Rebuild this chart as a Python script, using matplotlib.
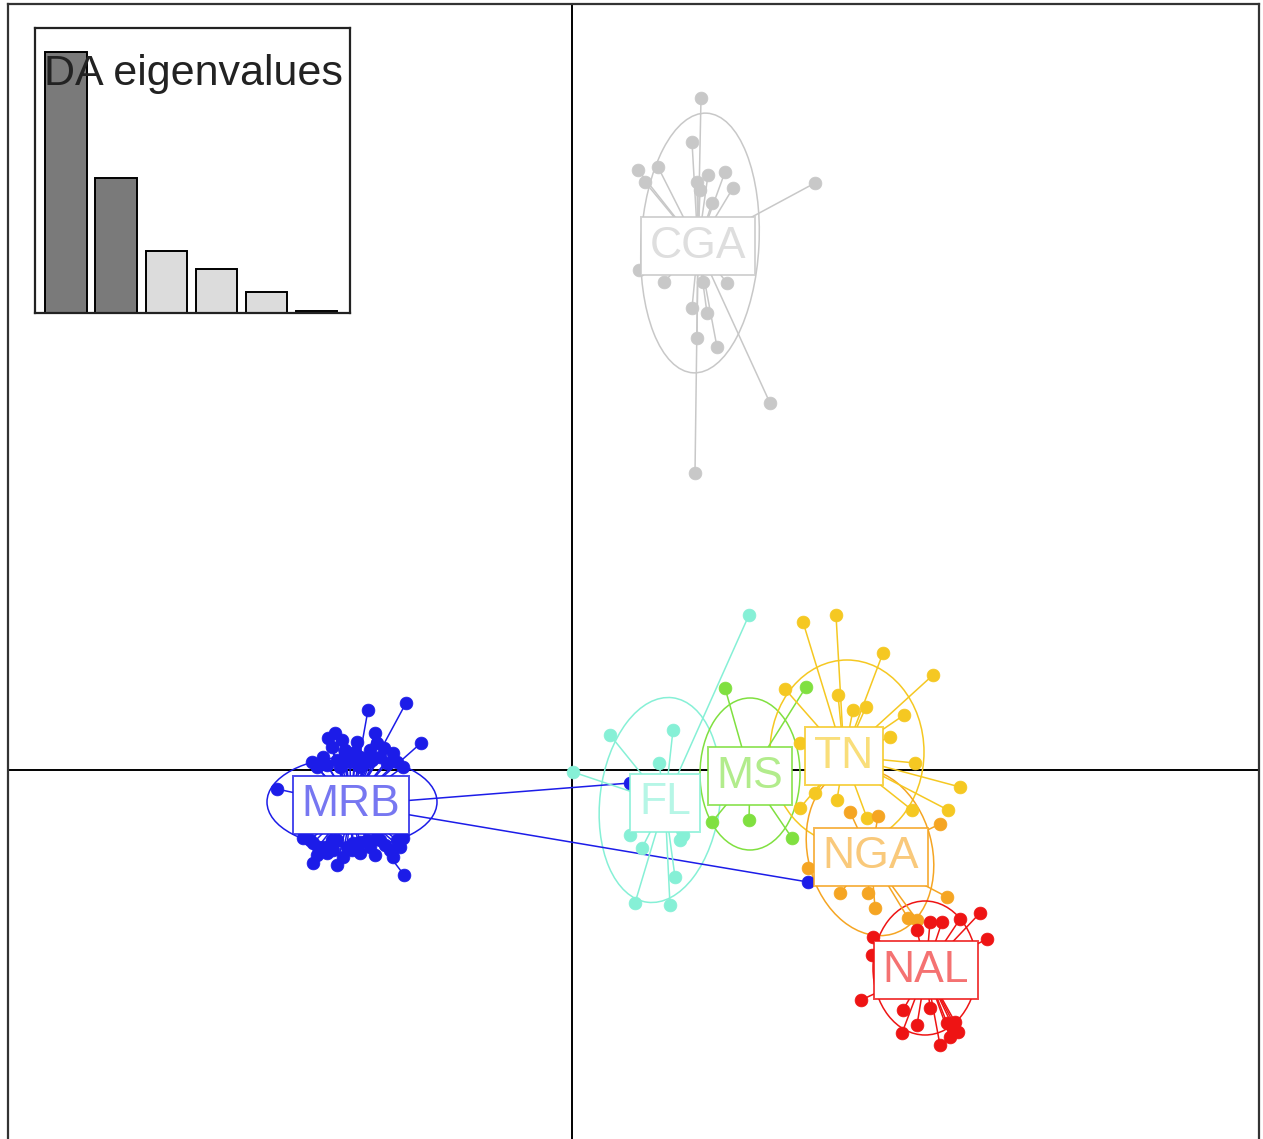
import numpy as np
import matplotlib
matplotlib.use("Agg")
import matplotlib.pyplot as plt
from matplotlib.patches import Ellipse
from matplotlib.colors import to_rgba

plt.rcParams['font.family'] = ['Liberation Sans', 'DejaVu Sans']

# DAPC scores (LD1, LD2) of individuals, by population
groups = ["MRB", "FL", "MS", "TN", "NGA", "NAL", "CGA"]
colors = ["#1C1CE8", "#86F0D6", "#80E040", "#F5C822", "#F5A523", "#EE1414", "#C8C8C8"]

mrb_ld1 = [-1.66, -2.04, -1.51, -1.68, -2.59, -2.35, -2.95, 2.36, 0.58,
           -2.37, -2.44, -1.97, -2.27, -2.12, -2.02, -1.92, -1.79, -1.75, -2.35, -2.49,
           -2.22, -1.85, -2.40, -1.95, -2.12, -2.32, -2.45, -1.69, -2.55, -2.05, -2.17,
           -2.30, -2.15, -2.00, -1.88, -2.60, -2.28,
           -2.69, -2.59, -2.49, -2.35, -2.25, -2.12, -2.02, -1.92, -1.82, -1.72, -1.79,
           -2.12, -2.29, -2.45, -2.54, -2.19, -1.97, -2.62, -1.69, -1.95, -2.39,
           -2.05, -2.40, -1.87, -2.20, -2.55, -1.75]
mrb_ld2 = [0.67, 0.60, 0.27, -1.05, -0.93, -0.95, -0.19, -1.12, -0.13,
           0.37, 0.32, 0.37, 0.20, 0.13, 0.20, 0.13, 0.17, 0.08, 0.10, 0.13,
           0.08, 0.07, 0.23, 0.27, 0.03, 0.03, 0.05, 0.03, 0.03, 0.08, 0.18,
           0.30, 0.28, 0.10, 0.22, 0.08, 0.12,
           -0.68, -0.73, -0.77, -0.70, -0.77, -0.72, -0.77, -0.70, -0.80, -0.77, -0.87,
           -0.83, -0.87, -0.83, -0.77, -0.73, -0.85, -0.70, -0.68, -0.67, -0.80,
           -0.70, -0.70, -0.75, -0.80, -0.85, -0.70]

fl_ld1 = [1.77, 0.38, 1.01, 0.87, 0.01, 0.58, 1.11, 0.70, 1.03, 0.63, 0.98, 1.08]
fl_ld2 = [1.55, 0.35, 0.40, 0.07, -0.02, -0.65, -0.65, -0.78, -1.07, -1.33, -1.35, -0.70]

ms_ld1 = [1.53, 1.40, 1.77, 2.20, 2.34]
ms_ld2 = [0.82, -0.52, -0.50, -0.68, 0.83]

tn_ld1 = [2.31, 2.64, 3.11, 3.61, 2.13, 2.66, 2.81, 2.94, 3.32, 3.18, 3.43, 3.88,
          3.76, 3.40, 2.28, 2.28, 2.65, 2.95, 2.43]
tn_ld2 = [1.48, 1.55, 1.17, 0.95, 0.81, 0.75, 0.60, 0.63, 0.55, 0.33, 0.07, -0.17,
          -0.40, -0.40, 0.27, -0.38, -0.30, -0.48, -0.23]

nga_ld1 = [2.78, 3.06, 3.68, 2.36, 2.68, 2.96, 3.03, 3.36, 3.45, 3.75]
nga_ld2 = [-0.42, -0.46, -0.54, -0.98, -1.23, -1.23, -1.38, -1.48, -1.50, -1.27]

nal_ld1 = [4.08, 4.15, 3.88, 3.70, 3.58, 3.45, 3.01, 3.00, 2.89, 3.31, 3.45, 3.30,
           3.58, 3.75, 3.83, 3.86, 3.78, 3.68, 3.81]
nal_ld2 = [-1.43, -1.69, -1.49, -1.52, -1.52, -1.60, -1.67, -1.85, -2.30, -2.40, -2.55, -2.63,
           -2.38, -2.53, -2.52, -2.62, -2.67, -2.75, -2.57]

cga_ld1 = [1.29, 1.20, 0.66, 0.86, 0.73, 1.25, 1.36, 1.53, 1.61, 1.40, 1.28, 2.43,
           0.67, 0.92, 1.55, 1.31, 1.20, 1.35, 1.25, 1.45, 1.98, 1.23]
cga_ld2 = [6.72, 6.28, 6.00, 6.03, 5.88, 5.88, 5.95, 5.98, 5.82, 5.67, 5.80, 5.87,
           5.00, 4.88, 4.87, 4.88, 4.62, 4.57, 4.32, 4.23, 3.67, 2.97]

# group centroids
cent_ld1 = [-2.21, 0.93, 1.78, 2.72, 2.99, 3.54, 1.26]
cent_ld2 = [-0.35, -0.33, -0.06, 0.14, -0.87, -2.00, 5.24]

# inertia ellipses: centre, half-axes and rotation (degrees)
ell_x = [-2.20, 0.88, 1.78, 2.75, 2.98, 3.53, 1.28]
ell_y = [-0.32, -0.30, -0.04, 0.18, -0.82, -1.98, 5.27]
ell_a = [0.85, 0.60, 0.50, 0.77, 0.62, 0.52, 0.59]
ell_b = [0.45, 1.03, 0.76, 0.92, 0.85, 0.67, 1.30]
ell_rot = [0, -7, 0, 0, 15, 0, -3]

# DA eigenvalues; the first two are retained
eig = [26.1, 13.5, 6.2, 4.4, 2.1, 0.2]
n_retained = 2

scores = [(mrb_ld1, mrb_ld2), (fl_ld1, fl_ld2), (ms_ld1, ms_ld2), (tn_ld1, tn_ld2),
          (nga_ld1, nga_ld2), (nal_ld1, nal_ld2), (cga_ld1, cga_ld2)]

fig = plt.figure(figsize=(12.63, 11.39), dpi=100)
ax = fig.add_axes([8 / 1263, 0, 1251 / 1263, 1 - 4 / 1139])
ax.set_xlim(-5.64, 6.87)
ax.set_ylim(-3.69, 7.66)
ax.set_xticks([])
ax.set_yticks([])
for side in ["top", "left", "right"]:
    ax.spines[side].set_color("#333333")
    ax.spines[side].set_linewidth(1.6)
ax.spines["bottom"].set_visible(False)

ax.axhline(0, color="black", lw=1.4, zorder=1)
ax.axvline(0, color="black", lw=1.4, zorder=1)

for i, g in enumerate(groups):
    col = colors[i]
    xs, ys = np.array(scores[i][0]), np.array(scores[i][1])
    cx, cy = cent_ld1[i], cent_ld2[i]
    ax.add_patch(Ellipse((ell_x[i], ell_y[i]), 2 * ell_a[i], 2 * ell_b[i], angle=ell_rot[i],
                         fill=False, ec=col, lw=1.1, zorder=2))
    for x, y in zip(xs, ys):
        ax.plot([cx, x], [cy, y], color=col, lw=1.1, zorder=3)
    ax.scatter(xs, ys, s=85, color=col, edgecolors=col, linewidths=0.5, zorder=4)

for i, g in enumerate(groups):
    col = colors[i]
    ax.text(cent_ld1[i], cent_ld2[i], g, fontsize=32, ha="center", va="center",
            color=to_rgba(col, 0.6), zorder=6,
            bbox=dict(boxstyle="square,pad=0.2", fc="white", ec=to_rgba(col, 0.8), lw=1.4))

# inset: eigenvalue barplot
ins = fig.add_axes([35 / 1263, 1 - 313 / 1139, 315 / 1263, 285 / 1139])
bar_x = 0.2 + 1.2 * np.arange(len(eig))
bar_col = ["#7A7A7A" if k < n_retained else "#DCDCDC" for k in range(len(eig))]
ins.bar(bar_x, eig, width=1.0, align="edge", color=bar_col, edgecolor="black", lw=1.4)
ins.set_xlim(-0.05, 7.5)
ins.set_ylim(0, 28.5)
ins.set_xticks([])
ins.set_yticks([])
for sp in ins.spines.values():
    sp.set_linewidth(1.6)
    sp.set_color("#222222")
ins.text(0.03, 0.91, "DA eigenvalues", transform=ins.transAxes, fontsize=31,
         ha="left", va="top", color="#222222", zorder=5)

fig.savefig("out.png", dpi=100)
